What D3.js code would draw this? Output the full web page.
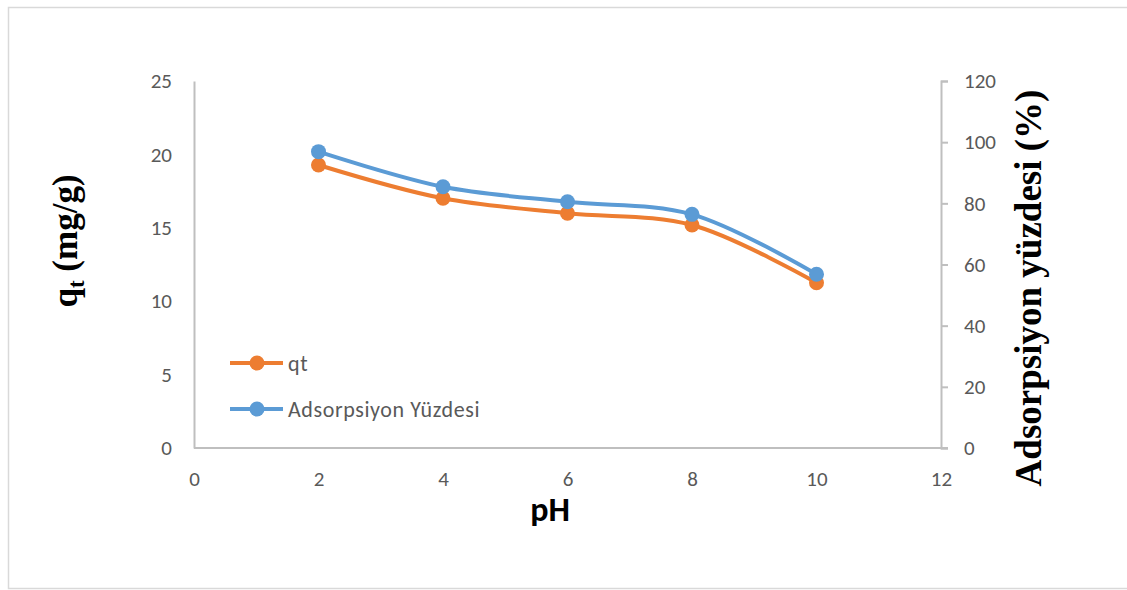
<!DOCTYPE html>
<html lang="tr">
<head>
<meta charset="utf-8">
<title>qt ve Adsorpsiyon Yüzdesi - pH</title>
<script src="https://d3js.org/d3.v7.min.js"></script>
<style>
  body { margin: 0; background: #fff; }
  .tick-label { font-family: Carlito, Calibri, Lato, sans-serif; font-size: 21px; fill: #595959; }
  .legend-label { font-family: Carlito, Calibri, Lato, sans-serif; font-size: 22px; letter-spacing: 0.6px; fill: #595959; }
</style>
</head>
<body>
<svg id="chart"></svg>
<script>
// data
var pH = [2, 4, 6, 8, 10];
var qt = [19.28, 17.01, 15.99, 15.19, 11.26];
var adsorpsiyon = [96.9, 85.4, 80.5, 76.4, 56.8];

var xTicks = [0, 2, 4, 6, 8, 10, 12];
var leftTicks = [0, 5, 10, 15, 20, 25];
var rightTicks = [0, 20, 40, 60, 80, 100, 120];

var seriesNames = ["qt", "Adsorpsiyon Yüzdesi"];
var seriesColors = ["#ED7D31", "#5B9BD5"];

var config = {
  w: 1127,
  h: 590,
  left: 194,
  right: 941,
  top: 81,
  bottom: 448
};

var svg = d3.select("#chart")
  .attr("width", config.w)
  .attr("height", config.h);

// chart frame
svg.append("rect")
  .attr("x", 8.5)
  .attr("y", 7.5)
  .attr("width", 1130)
  .attr("height", 581)
  .attr("fill", "#fff")
  .attr("stroke", "#d9d9d9")
  .attr("stroke-width", 1.5);

var x = d3.scaleLinear().domain([0, 12]).range([config.left, config.right]);
var yLeft = d3.scaleLinear().domain([0, 25]).range([config.bottom, config.top]);
var yRight = d3.scaleLinear().domain([0, 120]).range([config.bottom, config.top]);

// left axis: line only
var leftAxis = svg.append("g")
  .attr("transform", "translate(" + config.left + ",0)")
  .call(d3.axisLeft(yLeft).tickValues(leftTicks).tickSize(0).tickPadding(22));

// right axis with outward ticks
var rightAxis = svg.append("g")
  .attr("transform", "translate(" + config.right + ",0)")
  .call(d3.axisRight(yRight).tickValues(rightTicks).tickSize(7).tickSizeOuter(7).tickPadding(16));

// bottom axis
var bottomAxis = svg.append("g")
  .attr("transform", "translate(0," + config.bottom + ")")
  .call(d3.axisBottom(x).tickValues(xTicks).tickSize(0).tickSizeOuter(0).tickPadding(23));

[leftAxis, rightAxis, bottomAxis].forEach(function(g) {
  g.select(".domain").attr("stroke", "#bfbfbf").attr("stroke-width", 2);
  g.selectAll(".tick line").attr("stroke", "#bfbfbf").attr("stroke-width", 2);
  g.selectAll(".tick text").attr("class", "tick-label").attr("font-family", null).attr("font-size", null);
});
// x axis line runs past the right axis to the tick end
bottomAxis.select(".domain").attr("d", "M" + config.left + ",0H" + (config.right + 7));

// axis titles
svg.append("text")
  .attr("transform", "translate(77,241) rotate(-90)")
  .attr("text-anchor", "middle")
  .style("font-family", "'Liberation Serif', 'Times New Roman', serif")
  .style("font-weight", "bold")
  .style("font-size", "35px")
  .call(function(t) {
    t.append("tspan").text("q");
    t.append("tspan").attr("dy", 7).style("font-size", "23px").text("t");
    t.append("tspan").attr("dy", -7).text(" (mg/g)");
  });

svg.append("text")
  .attr("transform", "translate(1041,288) rotate(-90)")
  .attr("text-anchor", "middle")
  .style("font-family", "'Liberation Serif', 'Times New Roman', serif")
  .style("font-weight", "bold")
  .style("font-size", "37px")
  .text("Adsorpsiyon yüzdesi (%)");

svg.append("text")
  .attr("x", 550)
  .attr("y", 521)
  .attr("text-anchor", "middle")
  .style("font-family", "Carlito, Calibri, Lato, sans-serif")
  .style("font-weight", "bold")
  .style("font-size", "34px")
  .text("pH");

// series
var line = d3.line().curve(d3.curveCatmullRom.alpha(0.5));

function drawSeries(values, yScale, color) {
  var pts = pH.map(function(p, i) { return [x(p), yScale(values[i])]; });
  svg.append("path")
    .attr("d", line(pts))
    .attr("fill", "none")
    .attr("stroke", color)
    .attr("stroke-width", 4);
  svg.selectAll(null)
    .data(pts)
    .enter()
    .append("circle")
    .attr("cx", function(d) { return d[0]; })
    .attr("cy", function(d) { return d[1]; })
    .attr("r", 7.5)
    .attr("fill", color);
}

drawSeries(qt, yLeft, seriesColors[0]);
drawSeries(adsorpsiyon, yRight, seriesColors[1]);

// legend
var legend = svg.append("g").attr("transform", "translate(230,363)");
seriesNames.forEach(function(name, i) {
  var g = legend.append("g").attr("transform", "translate(0," + (i * 46) + ")");
  g.append("line")
    .attr("x1", 0).attr("x2", 53)
    .attr("stroke", seriesColors[i])
    .attr("stroke-width", 4);
  g.append("circle")
    .attr("cx", 27).attr("r", 7.5)
    .attr("fill", seriesColors[i]);
  g.append("text")
    .attr("class", "legend-label")
    .attr("x", 58)
    .attr("dy", "0.35em")
    .text(name);
});
</script>
</body>
</html>
